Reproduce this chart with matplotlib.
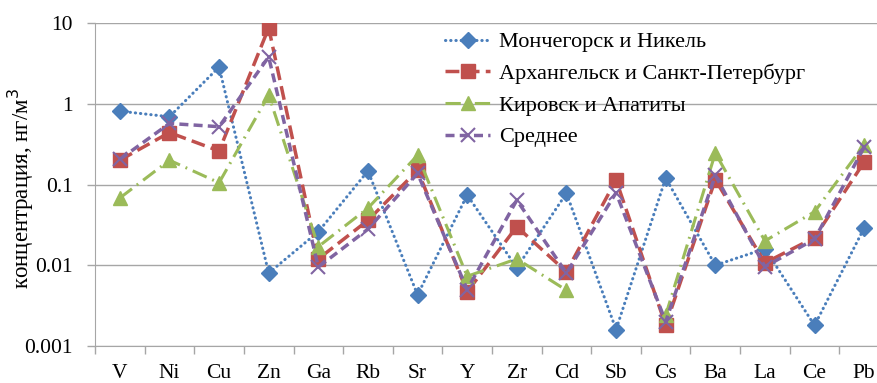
import numpy as np
import matplotlib
matplotlib.use("Agg")
import matplotlib.pyplot as plt

plt.rcParams['font.family'] = ['Liberation Serif', 'DejaVu Serif']

elements = ["V", "Ni", "Cu", "Zn", "Ga", "Rb", "Sr", "Y", "Zr", "Cd",
            "Sb", "Cs", "Ba", "La", "Ce", "Pb"]

monch = [0.81, 0.69, 2.85, 0.008, 0.026, 0.147, 0.0043, 0.074, 0.0093, 0.078,
         0.0016, 0.12, 0.010, 0.016, 0.0018, 0.029]
arkh = [0.20, 0.44, 0.26, 8.7, 0.012, 0.036, 0.15, 0.0047, 0.030, 0.0083,
        0.114, 0.0018, 0.115, 0.0107, 0.022, 0.19]
kirov = [0.068, 0.20, 0.105, 1.28, 0.017, 0.051, 0.23, 0.0073, 0.012, 0.0049,
         np.nan, 0.0024, 0.245, 0.020, 0.046, 0.31]
mean = [0.205, 0.57, 0.52, 3.8, 0.0095, 0.028, 0.137, 0.005, 0.064, 0.008,
        0.079, 0.002, 0.13, 0.0096, 0.021, 0.29]

names = ["Мончегорск и Никель", "Архангельск и Санкт-Петербург",
         "Кировск и Апатиты", "Среднее"]

fig = plt.figure(figsize=(8.77, 3.83), dpi=100)
ax = fig.add_axes([95/877, 37/383, 794/877, 323/383])

x = np.arange(len(elements))
grey = "#a6a6a6"

ax.plot(x, monch, color="#4a7ebb", lw=2.2, linestyle=(0, (0.1, 1.6)),
        dash_capstyle="round", marker="D", markersize=8.5, label=names[0], zorder=3)
ax.plot(x, arkh, color="#c0504d", lw=2.5, linestyle=(0, (4, 1.8)),
        marker="s", markersize=10, label=names[1], zorder=3)
ax.plot(x, kirov, color="#9bbb59", lw=2.2, linestyle=(0, (5, 2, 0.6, 2)),
        marker="^", markersize=10, label=names[2], zorder=3)
ax.plot(x, mean, color="#8064a2", lw=2.5, linestyle=(0, (2.6, 1.5)),
        marker="x", markersize=10, mew=1.5, label=names[3], zorder=4)

ax.set_yscale("log")
ax.set_ylim(0.001, 10)
ax.set_xlim(-0.5, len(elements) - 0.5)
ax.set_yticks([0.001, 0.01, 0.1, 1, 10])
ax.set_yticklabels(["0.001", "0.01", "0.1", "1", "10"])
ax.minorticks_off()
ax.yaxis.grid(True, color=grey, lw=1)
ax.set_axisbelow(True)

# category labels at centres, tick marks at boundaries
ax.set_xticks(x)
ax.set_xticklabels(elements)
ax.tick_params(axis="x", length=0, pad=13, labelsize=15.5)
ax.set_xticks(np.arange(len(elements) + 1) - 0.5, minor=True)
ax.tick_params(axis="x", which="minor", length=6, color=grey, width=1)
ax.tick_params(axis="y", length=6, color=grey, width=1, labelsize=15.5, pad=10)

for s in ["top", "right"]:
    ax.spines[s].set_visible(False)
for s in ["left", "bottom"]:
    ax.spines[s].set_color(grey)

ax.set_ylabel("концентрация, нг/м$^3$", fontsize=16.5)
ax.yaxis.set_label_coords((36 - 95) / 794, 0.5 - (189 - 184.5) / 323)

ax.legend(loc="upper left", bbox_to_anchor=(0.43, 1.0), frameon=False,
          fontsize=16, handlelength=2.0, handletextpad=0.4,
          labelspacing=0.5, borderaxespad=0)

fig.savefig("out.png", dpi=100)
